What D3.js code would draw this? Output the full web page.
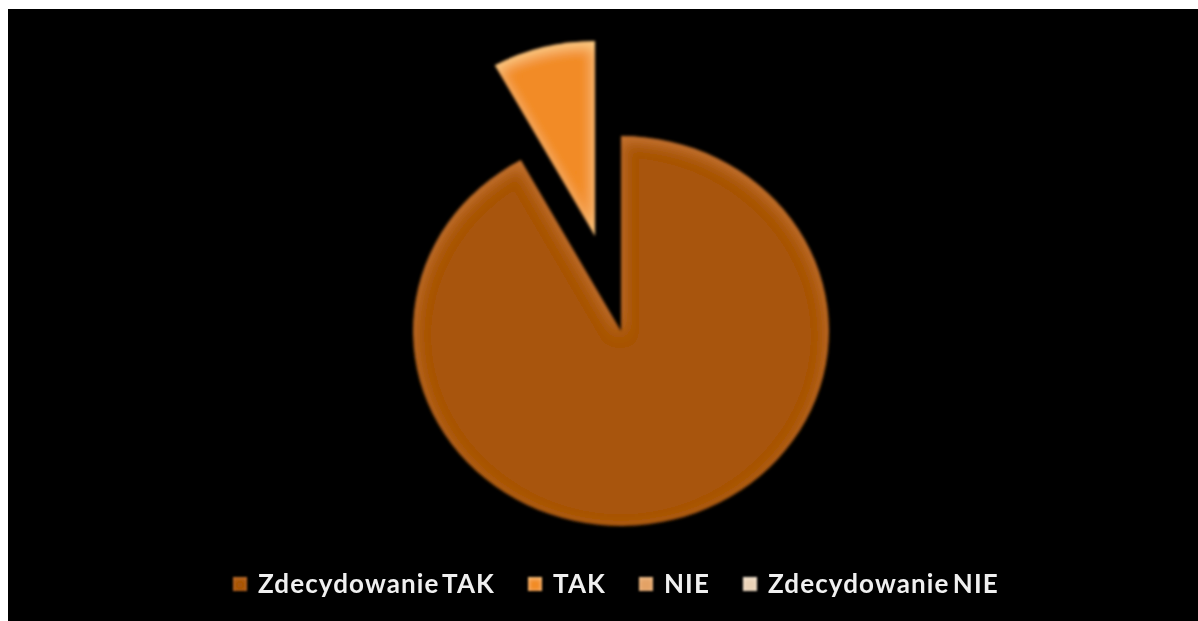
<!DOCTYPE html>
<html>
<head>
<meta charset="utf-8">
<script src="https://cdn.jsdelivr.net/npm/d3@7"></script>
<style>
html, body { margin: 0; padding: 0; background: #fff; overflow: hidden; }
text { font-family: Lato, "Open Sans", sans-serif; font-weight: 700; }
</style>
</head>
<body>
<svg id="chart" width="1198" height="621"></svg>
<script>
let categories = ["Zdecydowanie TAK", "TAK", "NIE", "Zdecydowanie NIE"];
let shares = [92, 8, 0, 0];
let colors = ["#a8540e", "#f28b26", "#e3a265", "#ead2b6"];
let glows = ["#cf7d38", "#ffe09a", "#f6cfa0", "#fff4e6"];

let width = 1198, height = 621;
let svg = d3.select("#chart");

// black panel, the white strip on top and left comes from the page
svg.append("rect")
    .attr("x", 8).attr("y", 9)
    .attr("width", width - 8).attr("height", height - 9)
    .attr("fill", "#000");

let defs = svg.append("defs");

// soft bevel: light rim fading inwards, shifted so the top edge catches more light
function bevel(id, glow, spread, shift, soften) {
    let f = defs.append("filter").attr("id", id)
        .attr("x", "-10%").attr("y", "-10%").attr("width", "120%").attr("height", "120%");
    f.append("feGaussianBlur").attr("in", "SourceAlpha").attr("stdDeviation", spread).attr("result", "blur");
    f.append("feOffset").attr("in", "blur").attr("dy", shift).attr("result", "shifted");
    f.append("feComposite").attr("in", "SourceAlpha").attr("in2", "shifted").attr("operator", "arithmetic")
        .attr("k1", 0).attr("k2", 1).attr("k3", -1).attr("k4", 0).attr("result", "rim");
    f.append("feFlood").attr("flood-color", glow).attr("flood-opacity", 0.8);
    f.append("feComposite").attr("in2", "rim").attr("operator", "in").attr("result", "rimColor");
    let m = f.append("feMerge").attr("result", "merged");
    m.append("feMergeNode").attr("in", "SourceGraphic");
    m.append("feMergeNode").attr("in", "rimColor");
    f.append("feGaussianBlur").attr("in", "merged").attr("stdDeviation", soften);
}
categories.forEach((c, i) => bevel("bevel" + i, glows[i], 7, 5, 1.4));
categories.forEach((c, i) => bevel("legendBevel" + i, glows[i], 2, 1, 1));

let textBlur = defs.append("filter").attr("id", "textBlur");
textBlur.append("feGaussianBlur").attr("stdDeviation", 0.5);

let cx = 621, cy = 331, ry = 195, rx = 208, explode = 98;

let pie = d3.pie().sort(null).value(d => d);
let arc = d3.arc().innerRadius(0).outerRadius(ry);
let slices = pie(shares);

let plot = svg.append("g")
    .attr("transform", `translate(${cx},${cy}) scale(${rx / ry},1)`);

plot.selectAll("path")
    .data(slices.filter(d => d.value > 0))
    .join("path")
    .attr("d", arc)
    .attr("fill", d => colors[d.index])
    .attr("filter", d => `url(#bevel${d.index})`)
    .attr("transform", d => {
        if (d.index !== 1) return null;
        let p = d3.pointRadial((d.startAngle + d.endAngle) / 2, explode);
        return `translate(${p[0]},${p[1]})`;
    });

// legend, laid out left to right from the measured label widths
let legendX = 233, legendY = 584, boxSize = 14;
let legend = svg.append("g");
categories.forEach((c, i) => {
    let g = legend.append("g");
    g.append("rect")
        .attr("x", legendX).attr("y", legendY - boxSize / 2)
        .attr("width", boxSize).attr("height", boxSize)
        .attr("fill", colors[i])
        .attr("filter", `url(#legendBevel${i})`);
    let label = g.append("text")
        .attr("x", legendX + 25).attr("y", legendY + 9)
        .attr("fill", "#f0f0f0")
        .attr("font-size", 26)
        .attr("letter-spacing", 1.1)
        .attr("word-spacing", -4)
        .attr("filter", "url(#textBlur)")
        .text(c);
    legendX += 25 + label.node().getComputedTextLength() + 33;
});
</script>
</body>
</html>
